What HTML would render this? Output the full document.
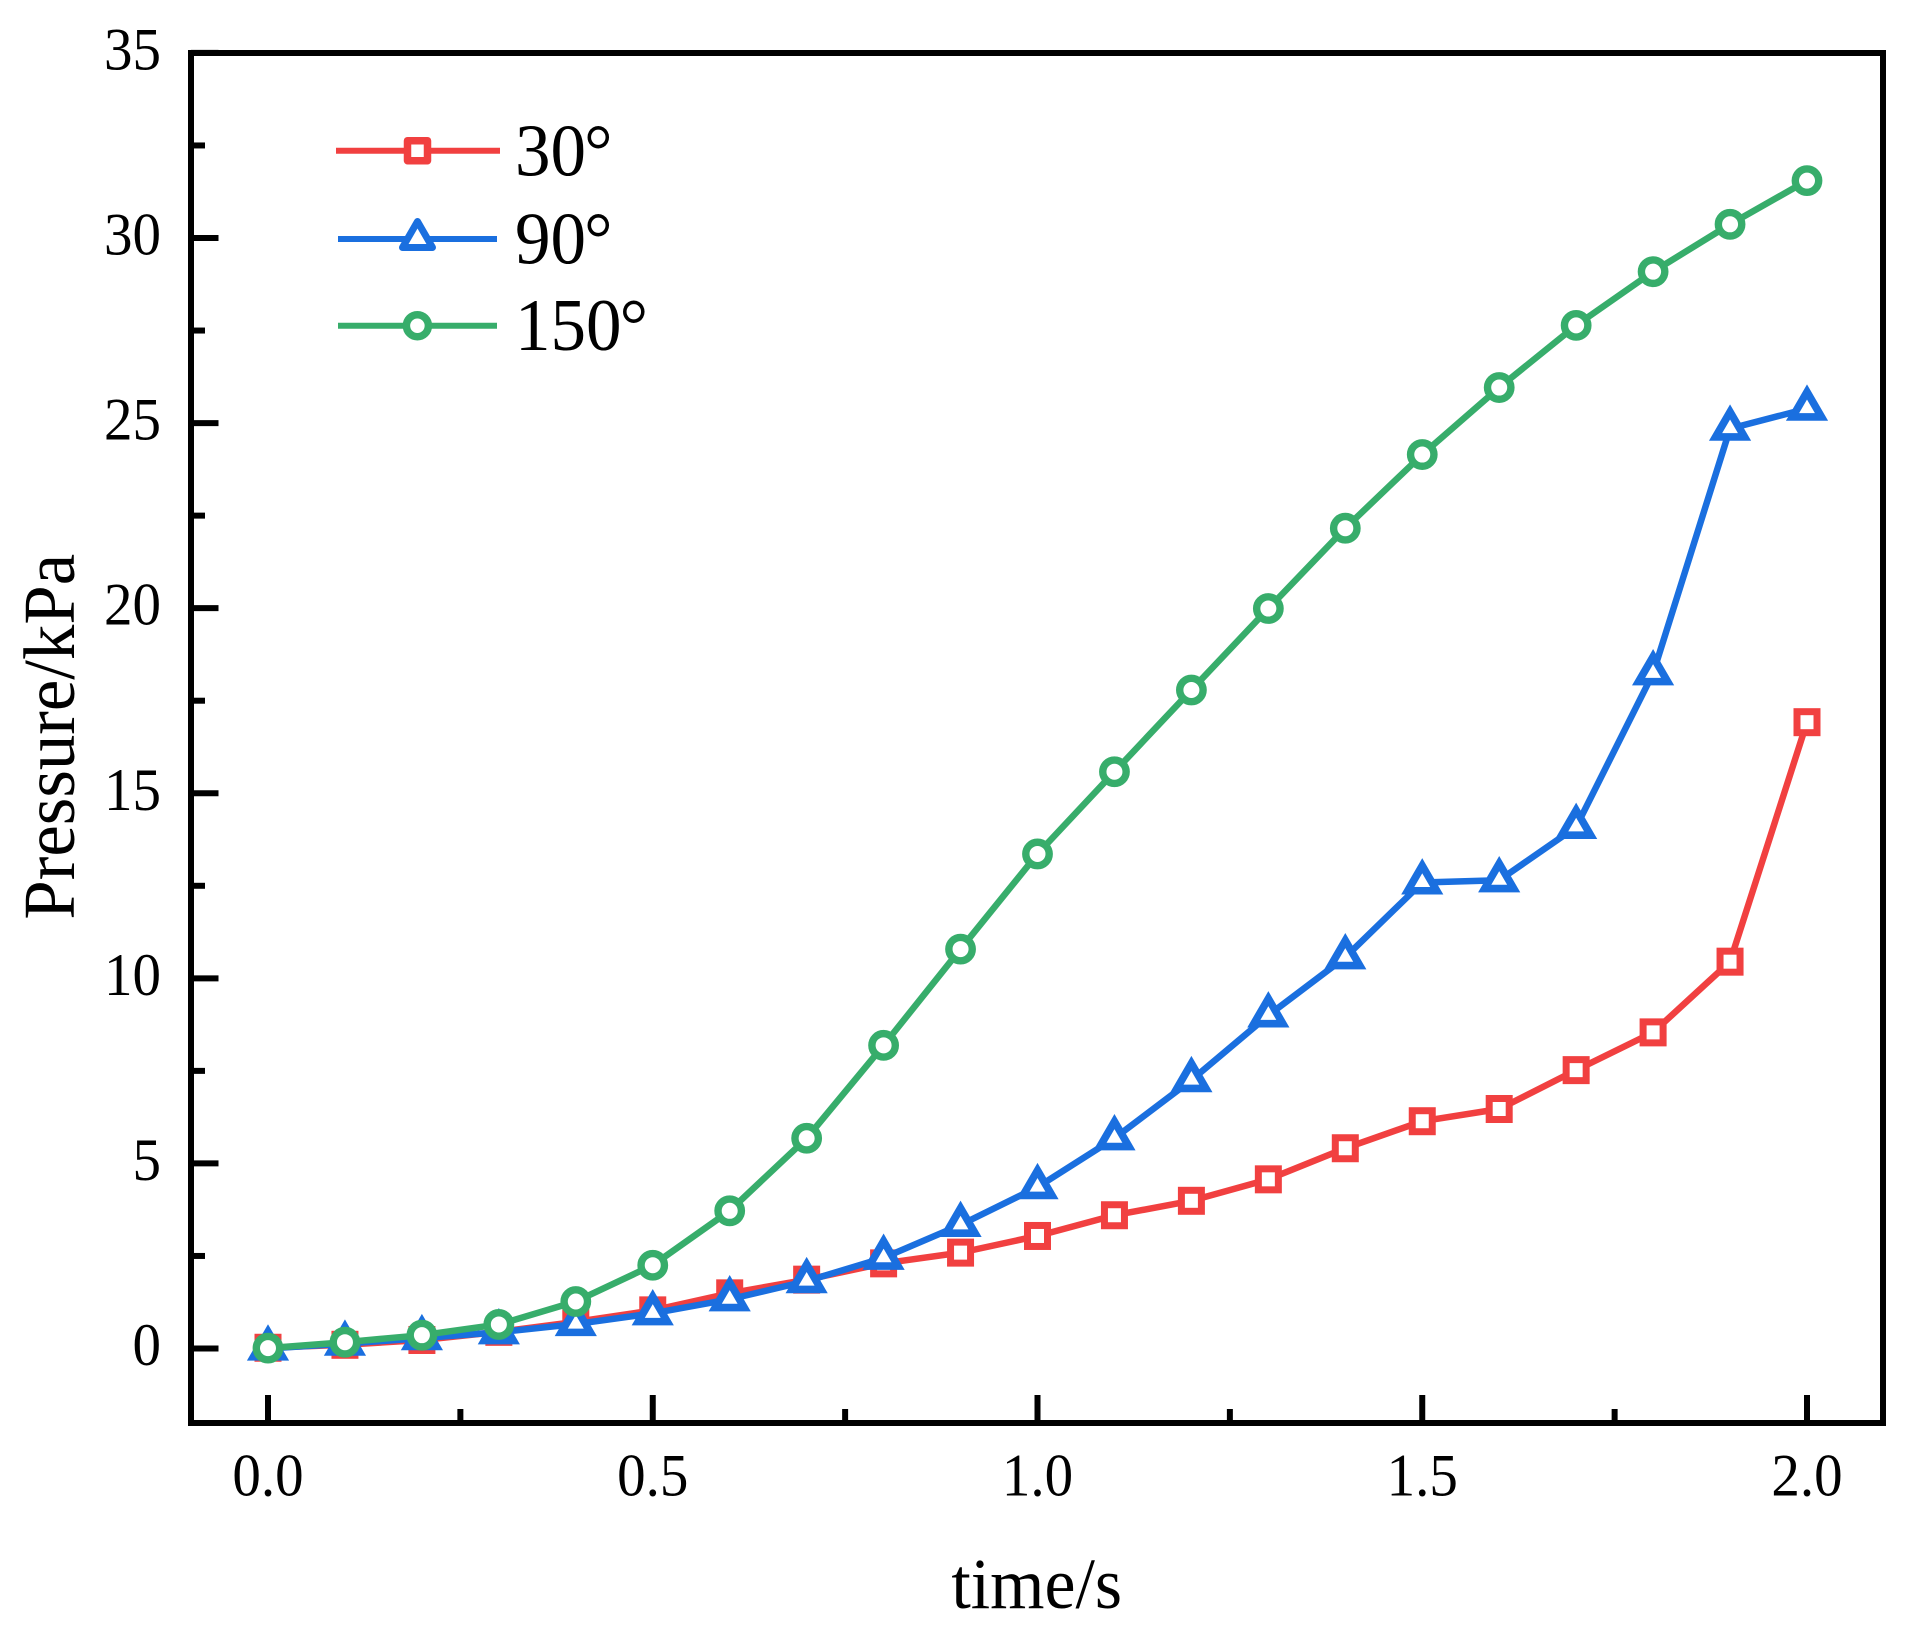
<!DOCTYPE html>
<html lang="en">
<head>
<meta charset="utf-8">
<title>Pressure versus time</title>
<style>
  html, body { margin: 0; padding: 0; background: #fff; }
  svg { display: block; }
  text { font-family: "Liberation Serif", "Times New Roman", serif; fill: #000; }
</style>
</head>
<body>
<svg id="chart" xmlns="http://www.w3.org/2000/svg" width="1914" height="1639" viewBox="0 0 1914 1639">
  <rect x="0" y="0" width="1914" height="1639" fill="#fff"/>
  <g id="ticks"></g>
  <g id="series"></g>
  <rect x="191" y="53" width="1692" height="1370" fill="none" stroke="#000" stroke-width="6"/>
  <g id="tick-labels"></g>
  <text transform="translate(1036.7 1608) scale(0.97 1)" font-size="72" text-anchor="middle">time/s</text>
  <text transform="translate(74 736.7) rotate(-90) scale(0.97 1)" font-size="73" text-anchor="middle">Pressure/kPa</text>
  <g>
    <g>
      <line x1="336" y1="150.7" x2="500" y2="150.7" stroke="#F14040" stroke-width="6"/>
      <rect x="407.5" y="140.7" width="20" height="20" fill="#fff" stroke="#F14040" stroke-width="7.5" stroke-linejoin="round"/>
      <text transform="translate(515 175.7) scale(0.96 1)" font-size="74">30<tspan dx="-2">°</tspan></text>
    </g>
    <g>
      <line x1="338" y1="239" x2="497" y2="239" stroke="#1A6FDF" stroke-width="6"/>
      <polygon points="417.5,221.5 432.5,247.5 402.5,247.5" fill="#fff" stroke="#1A6FDF" stroke-width="7" stroke-linejoin="round"/>
      <text transform="translate(515 263.3) scale(0.96 1)" font-size="74">90<tspan dx="-2">°</tspan></text>
    </g>
    <g>
      <line x1="338" y1="325.7" x2="497" y2="325.7" stroke="#37AD6B" stroke-width="6"/>
      <circle cx="417.4" cy="325.7" r="11" fill="#fff" stroke="#37AD6B" stroke-width="7.5"/>
      <text transform="translate(515 350) scale(0.96 1)" font-size="74">150<tspan dx="-2">°</tspan></text>
    </g>
  </g>
</svg>
<script>
const times = [0.0, 0.1, 0.2, 0.3, 0.4, 0.5, 0.6, 0.7, 0.8, 0.9, 1.0, 1.1, 1.2, 1.3, 1.4, 1.5, 1.6, 1.7, 1.8, 1.9, 2.0];
const pressure30 = [0.02, 0.10, 0.23, 0.45, 0.72, 1.03, 1.49, 1.86, 2.30, 2.59, 3.04, 3.60, 3.99, 4.57, 5.41, 6.14, 6.47, 7.52, 8.54, 10.45, 16.92];
const pressure90 = [0.00, 0.13, 0.28, 0.44, 0.66, 0.95, 1.33, 1.82, 2.45, 3.34, 4.36, 5.68, 7.25, 9.00, 10.57, 12.59, 12.65, 14.09, 18.24, 24.85, 25.39];
const pressure150 = [0.01, 0.17, 0.36, 0.65, 1.27, 2.25, 3.72, 5.68, 8.19, 10.79, 13.36, 15.58, 17.79, 19.99, 22.16, 24.15, 25.96, 27.64, 29.09, 30.37, 31.55];
const xMajorTicks = ["0.0", "0.5", "1.0", "1.5", "2.0"];
const xMinorTicks = [0.25, 0.75, 1.25, 1.75];
const yMajorTicks = ["0", "5", "10", "15", "20", "25", "30", "35"];
const yMinorTicks = [2.5, 7.5, 12.5, 17.5, 22.5, 27.5, 32.5];

const NS = 'http://www.w3.org/2000/svg';
const xAxis = function (v) { return 268 + (v / 2) * 1539; };
const yAxis = function (v) { return 1348.5 - (v / 30) * 1110.5; };

const tickGroup = document.getElementById('ticks');
const labelGroup = document.getElementById('tick-labels');
const seriesGroup = document.getElementById('series');

function tickLine(x1, y1, x2, y2) {
  const el = document.createElementNS(NS, 'line');
  el.setAttribute('x1', x1);
  el.setAttribute('y1', y1);
  el.setAttribute('x2', x2);
  el.setAttribute('y2', y2);
  el.setAttribute('stroke', '#000');
  el.setAttribute('stroke-width', 6);
  tickGroup.appendChild(el);
  return el;
}

function tickText(content, x, y, anchor) {
  const el = document.createElementNS(NS, 'text');
  el.setAttribute('transform', 'translate(' + x + ' ' + y + ') scale(0.95 1)');
  el.setAttribute('font-size', 60);
  el.setAttribute('text-anchor', anchor);
  el.textContent = content;
  labelGroup.appendChild(el);
  return el;
}

xMajorTicks.forEach(function (label) {
  const v = parseFloat(label);
  const mark = tickLine(xAxis(v), 1423, xAxis(v), 1395);
  
  
  const txt = tickText(label, xAxis(v), 1495.7, 'middle');
  
  
});
xMinorTicks.forEach(function (v) {
  const mark = tickLine(xAxis(v), 1423, xAxis(v), 1409);
  
  
});
yMajorTicks.forEach(function (label) {
  const v = parseFloat(label);
  const mark = tickLine(191, yAxis(v), 218.5, yAxis(v));
  
  
  const txt = tickText(label, 161, yAxis(v) + 16.5, 'end');
  
  
});
yMinorTicks.forEach(function (v) {
  const mark = tickLine(191, yAxis(v), 205, yAxis(v));
  
  
});

function drawLine(values, color, parent) {
  const pts = values.map(function (v, i) { return xAxis(times[i]) + ',' + yAxis(v); }).join(' ');
  const el = document.createElementNS(NS, 'polyline');
  el.setAttribute('points', pts);
  el.setAttribute('fill', 'none');
  el.setAttribute('stroke', color);
  el.setAttribute('stroke-width', 6.5);
  el.setAttribute('stroke-linejoin', 'round');
  parent.appendChild(el);
  return el;
}

function styleMarker(el, color, width, parent) {
  el.setAttribute('fill', '#fff');
  el.setAttribute('stroke', color);
  el.setAttribute('stroke-width', width);
  el.setAttribute('stroke-miterlimit', 10);
  parent.appendChild(el);
}

const red = '#F14040';
const blue = '#1A6FDF';
const green = '#37AD6B';

const group30 = document.createElementNS(NS, 'g');


seriesGroup.appendChild(group30);
const line30 = drawLine(pressure30, red, group30);


pressure30.forEach(function (v, i) {
  const el = document.createElementNS(NS, 'rect');
  el.setAttribute('x', xAxis(times[i]) - 10);
  el.setAttribute('y', yAxis(v) - 10.5);
  el.setAttribute('width', 20);
  el.setAttribute('height', 21);
  
  
  styleMarker(el, red, 7, group30);
});

const group90 = document.createElementNS(NS, 'g');


seriesGroup.appendChild(group90);
const line90 = drawLine(pressure90, blue, group90);


pressure90.forEach(function (v, i) {
  const cx = xAxis(times[i]);
  const cy = yAxis(v);
  const el = document.createElementNS(NS, 'polygon');
  el.setAttribute('points', cx + ',' + (cy - 16.7) + ' ' + (cx + 14.5) + ',' + (cy + 8.3) + ' ' + (cx - 14.5) + ',' + (cy + 8.3));
  
  
  styleMarker(el, blue, 7.6, group90);
});

const group150 = document.createElementNS(NS, 'g');


seriesGroup.appendChild(group150);
const line150 = drawLine(pressure150, green, group150);


pressure150.forEach(function (v, i) {
  const el = document.createElementNS(NS, 'circle');
  el.setAttribute('cx', xAxis(times[i]));
  el.setAttribute('cy', yAxis(v));
  el.setAttribute('r', 11.7);
  
  
  styleMarker(el, green, 7.4, group150);
});
</script>
</body>
</html>
